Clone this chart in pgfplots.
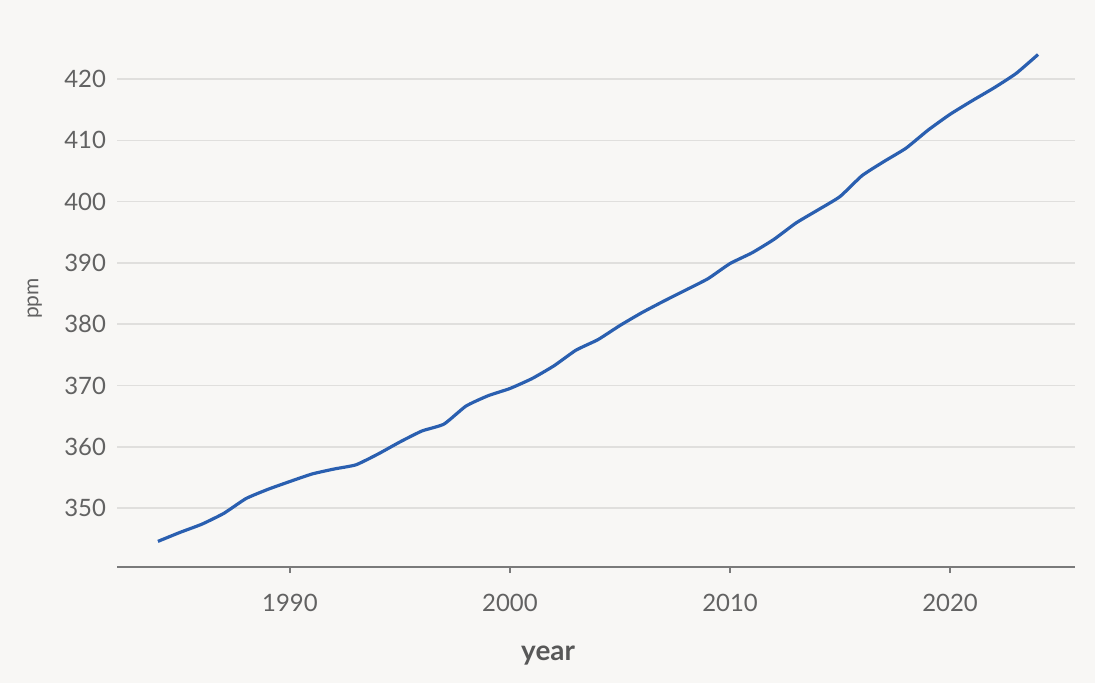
\documentclass[border=0pt]{standalone}
\usepackage{fontspec}
\setmainfont{Lato}
\usepackage{pgfplots}
\pgfplotsset{compat=1.18}
\definecolor{bgcol}{HTML}{F8F7F5}
\definecolor{gridcol}{HTML}{E0DFDD}
\definecolor{axiscol}{HTML}{7A7A7A}
\definecolor{textcol}{HTML}{626262}
\definecolor{linecol}{HTML}{2A5FB0}

\pgfplotstableread{
year ppm
1984 344.58
1985 346.04
1986 347.39
1987 349.16
1988 351.56
1989 353.07
1990 354.35
1991 355.57
1992 356.38
1993 357.07
1994 358.82
1995 360.80
1996 362.59
1997 363.71
1998 366.65
1999 368.33
2000 369.52
2001 371.13
2002 373.22
2003 375.77
2004 377.49
2005 379.80
2006 381.90
2007 383.79
2008 385.60
2009 387.43
2010 389.90
2011 391.65
2012 393.85
2013 396.52
2014 398.65
2015 400.83
2016 404.24
2017 406.55
2018 408.72
2019 411.66
2020 414.24
2021 416.45
2022 418.56
2023 420.90
2024 424.00
}\co

\begin{document}
\begin{tikzpicture}
% background, sized to the 1095x683 reference (1px = 0.5bp)
\fill[bgcol] (-58.5bp,-58bp) rectangle (489bp,283.5bp);
\begin{axis}[
    at={(0,0)}, anchor=origin,
    scale only axis,
    width=479bp, height=268.5bp,
    xmin=1982.14, xmax=2025.68,
    ymin=340.4, ymax=428,
    axis x line*=bottom,
    axis y line*=left,
    y axis line style={draw=none},
    x axis line style={axiscol, line width=0.8pt, -},
    xtick={1990,2000,2010,2020},
    ytick={350,360,...,420},
    xticklabel style={/pgf/number format/1000 sep={}, font=\fontsize{12}{14}\selectfont, text=textcol},
    yticklabel style={font=\fontsize{12}{14}\selectfont, text=textcol},
    /pgf/number format/assume math mode=true,
    x tick style={axiscol, line width=0.6pt},
    y tick style={draw=none},
    major tick length=3bp,
    tick align=outside,
    xticklabel shift=7bp,
    ymajorgrids,
    grid style={gridcol, line width=0.8pt},
    ylabel={ppm},
    ylabel style={font=\fontsize{10.5}{12}\selectfont, text=textcol, at={(axis description cs:0,0.5)}, anchor=south, yshift=34bp},
    xlabel={year},
    xlabel style={font=\fontsize{14}{16}\selectfont\bfseries, text=textcol!90!black, at={(axis description cs:0.45,0)}, anchor=north, yshift=-36bp},
    clip=false,
]
\pgfplotsset{every y tick label/.append style={xshift=1bp}}
\addplot[linecol, line width=1.6pt, smooth, tension=0.3] table[x=year, y=ppm] {\co};
\end{axis}
\end{tikzpicture}
\end{document}
